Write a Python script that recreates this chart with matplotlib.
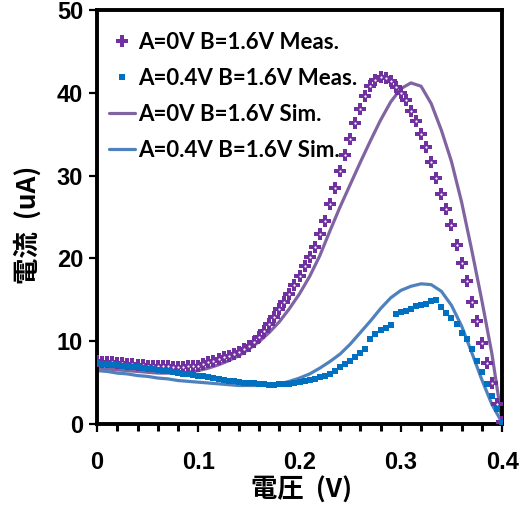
import numpy as np
import matplotlib
matplotlib.use("Agg")
import matplotlib.pyplot as plt
from matplotlib.ticker import MultipleLocator, FixedLocator

# Bias voltage sweeps (V)
v_meas = np.round(np.arange(0, 0.4001, 0.005), 3)
v_sim = np.round(np.arange(0, 0.4001, 0.01), 3)

# Measured current, A=0V B=1.6V (uA)
i_meas_a0 = [
    7.6, 7.5, 7.4, 7.4, 7.3, 7.3, 7.2, 7.2, 7.1, 7.1,
    7.0, 7.0, 6.9, 6.9, 6.9, 6.8, 6.8, 6.8, 6.9, 6.9,
    7.0, 7.2, 7.4, 7.6, 7.8, 8.0, 8.2, 8.4, 8.7, 9.0,
    9.4, 9.9, 10.5, 11.2, 12.0, 12.9, 13.8, 14.7, 15.7, 16.8,
    17.9, 19.0, 20.1, 21.3, 22.9, 24.5, 26.5, 28.5, 30.5, 32.5,
    34.4, 36.3, 38.0, 39.6, 40.8, 41.5, 41.9, 41.8, 41.4, 40.7,
    40.0, 39.1, 37.8, 36.6, 35.0, 33.5, 31.6, 29.7, 27.8, 26.0,
    24.0, 21.6, 19.4, 17.2, 14.7, 12.4, 9.8, 7.3, 4.9, 2.4,
    0.2,
]

# Measured current, A=0.4V B=1.6V (uA)
i_meas_a04 = [
    7.3, 7.25, 7.2, 7.1, 7.05, 7.0, 6.9, 6.85, 6.8, 6.7,
    6.6, 6.55, 6.5, 6.4, 6.3, 6.25, 6.15, 6.05, 6.0, 5.9,
    5.8, 5.7, 5.6, 5.5, 5.4, 5.3, 5.2, 5.1, 5.0, 4.95,
    4.9, 4.85, 4.8, 4.75, 4.7, 4.7, 4.8, 4.8, 4.8, 4.9,
    5.0, 5.1, 5.3, 5.4, 5.6, 5.8, 6.0, 6.3, 6.8, 7.2,
    7.6, 8.1, 8.5, 9.0, 10.2, 10.8, 11.3, 11.6, 11.9, 13.2,
    13.5, 13.6, 13.9, 14.2, 14.3, 14.5, 14.8, 14.9, 14.1, 13.4,
    12.8, 12.0, 11.0, 10.2, 9.0, 7.6, 6.2, 4.8, 3.3, 1.7,
    0.1,
]

# Simulated current, A=0V B=1.6V (uA)
i_sim_a0 = [
    6.7, 6.6, 6.5, 6.4, 6.3, 6.2, 6.1, 6.1, 6.1, 6.2,
    6.4, 6.7, 7.1, 7.6, 8.2, 9.0, 9.9, 11.0, 12.3, 13.9,
    15.7, 17.8, 20.3, 23.3, 26.2, 28.9, 31.6, 34.2, 36.7, 38.9,
    40.5, 41.2, 40.8, 38.7, 35.5, 31.7, 26.8, 21.0, 14.9, 8.4,
    0.3,
]

# Simulated current, A=0.4V B=1.6V (uA)
i_sim_a04 = [
    6.4, 6.3, 6.1, 6.0, 5.8, 5.7, 5.5, 5.4, 5.2, 5.1,
    5.0, 4.9, 4.8, 4.7, 4.6, 4.6, 4.6, 4.7, 4.8, 5.1,
    5.5, 6.0, 6.7, 7.5, 8.4, 9.6, 11.0, 12.4, 13.9, 15.2,
    16.1, 16.6, 16.9, 16.8, 16.0, 14.3, 11.8, 8.6, 5.3, 2.3,
    0.1,
]

labels = [
    "A=0V B=1.6V Meas.",
    "A=0.4V B=1.6V Meas.",
    "A=0V B=1.6V Sim.",
    "A=0.4V B=1.6V Sim.",
]
x_ticks = [0, 0.1, 0.2, 0.3, 0.4]
x_tick_labels = ["0", "0.1", "0.2", "0.3", "0.4"]
y_ticks = [0, 10, 20, 30, 40, 50]

purple_meas = "#7030A0"
blue_meas = "#0070C0"
purple_sim = "#8064A2"
blue_sim = "#4F81BD"

fig = plt.figure(figsize=(5.23, 5.08), dpi=100)
ax = fig.add_axes([0.1855, 0.1663, 0.7745, 0.8137])

ax.plot(v_meas, i_meas_a0, linestyle="none", marker="P", markersize=8.5,
        color=purple_meas, markeredgewidth=0, label=labels[0], zorder=3)
ax.plot(v_meas, i_meas_a0, linestyle="none", marker="o", markersize=1.6,
        color="white", markeredgewidth=0, zorder=3.1)
ax.plot(v_meas, i_meas_a04, linestyle="none", marker="s", markersize=5,
        color=blue_meas, markeredgewidth=0, label=labels[1], zorder=4)
ax.plot(v_sim, i_sim_a0, color=purple_sim, linewidth=2.3, label=labels[2],
        zorder=2, solid_capstyle="round")
ax.plot(v_sim, i_sim_a04, color=blue_sim, linewidth=2.3, label=labels[3],
        zorder=2, solid_capstyle="round")

ax.set_xlim(0, 0.4)
ax.set_ylim(0, 50)
ax.xaxis.set_major_locator(FixedLocator(x_ticks))
ax.set_xticklabels(x_tick_labels)
ax.xaxis.set_minor_locator(MultipleLocator(0.02))
ax.yaxis.set_major_locator(FixedLocator(y_ticks))

for side in ["left", "bottom", "right", "top"]:
    ax.spines[side].set_linewidth(2.8)
    ax.spines[side].set_color("black")

ax.tick_params(axis="both", which="major", direction="out", length=6,
               width=1.6, color="black")
ax.tick_params(axis="x", which="minor", direction="out", length=5,
               width=2.2, color="black")
ax.tick_params(axis="y", which="minor", left=False)
ax.tick_params(axis="x", which="major", pad=14)
ax.tick_params(axis="y", which="major", pad=4)

for lbl in ax.get_xticklabels() + ax.get_yticklabels():
    lbl.set_fontfamily(["Liberation Sans", "DejaVu Sans"])
    lbl.set_fontweight("bold")
    lbl.set_fontsize(17)

label_family = ["Noto Sans CJK JP", "DejaVu Sans"]
xl = ax.set_xlabel("電圧  (V)", fontsize=19, fontweight="bold",
                   family=label_family)
yl = ax.set_ylabel("電流  (uA)", fontsize=19, fontweight="bold",
                   family=label_family)
xl.set_verticalalignment("center")
yl.set_verticalalignment("center")
ax.xaxis.set_label_coords(0.504, -0.161)
ax.yaxis.set_label_coords(-0.170, 0.481)

leg = ax.legend(loc="upper left", bbox_to_anchor=(0.03, 0.948), frameon=False,
                prop={"family": ["Lato", "DejaVu Sans"], "weight": "bold",
                      "size": 16},
                handlelength=1.15, handletextpad=0.15, labelspacing=0.68,
                borderaxespad=0.0, borderpad=0.0)

fig.savefig("out.png", dpi=100)
